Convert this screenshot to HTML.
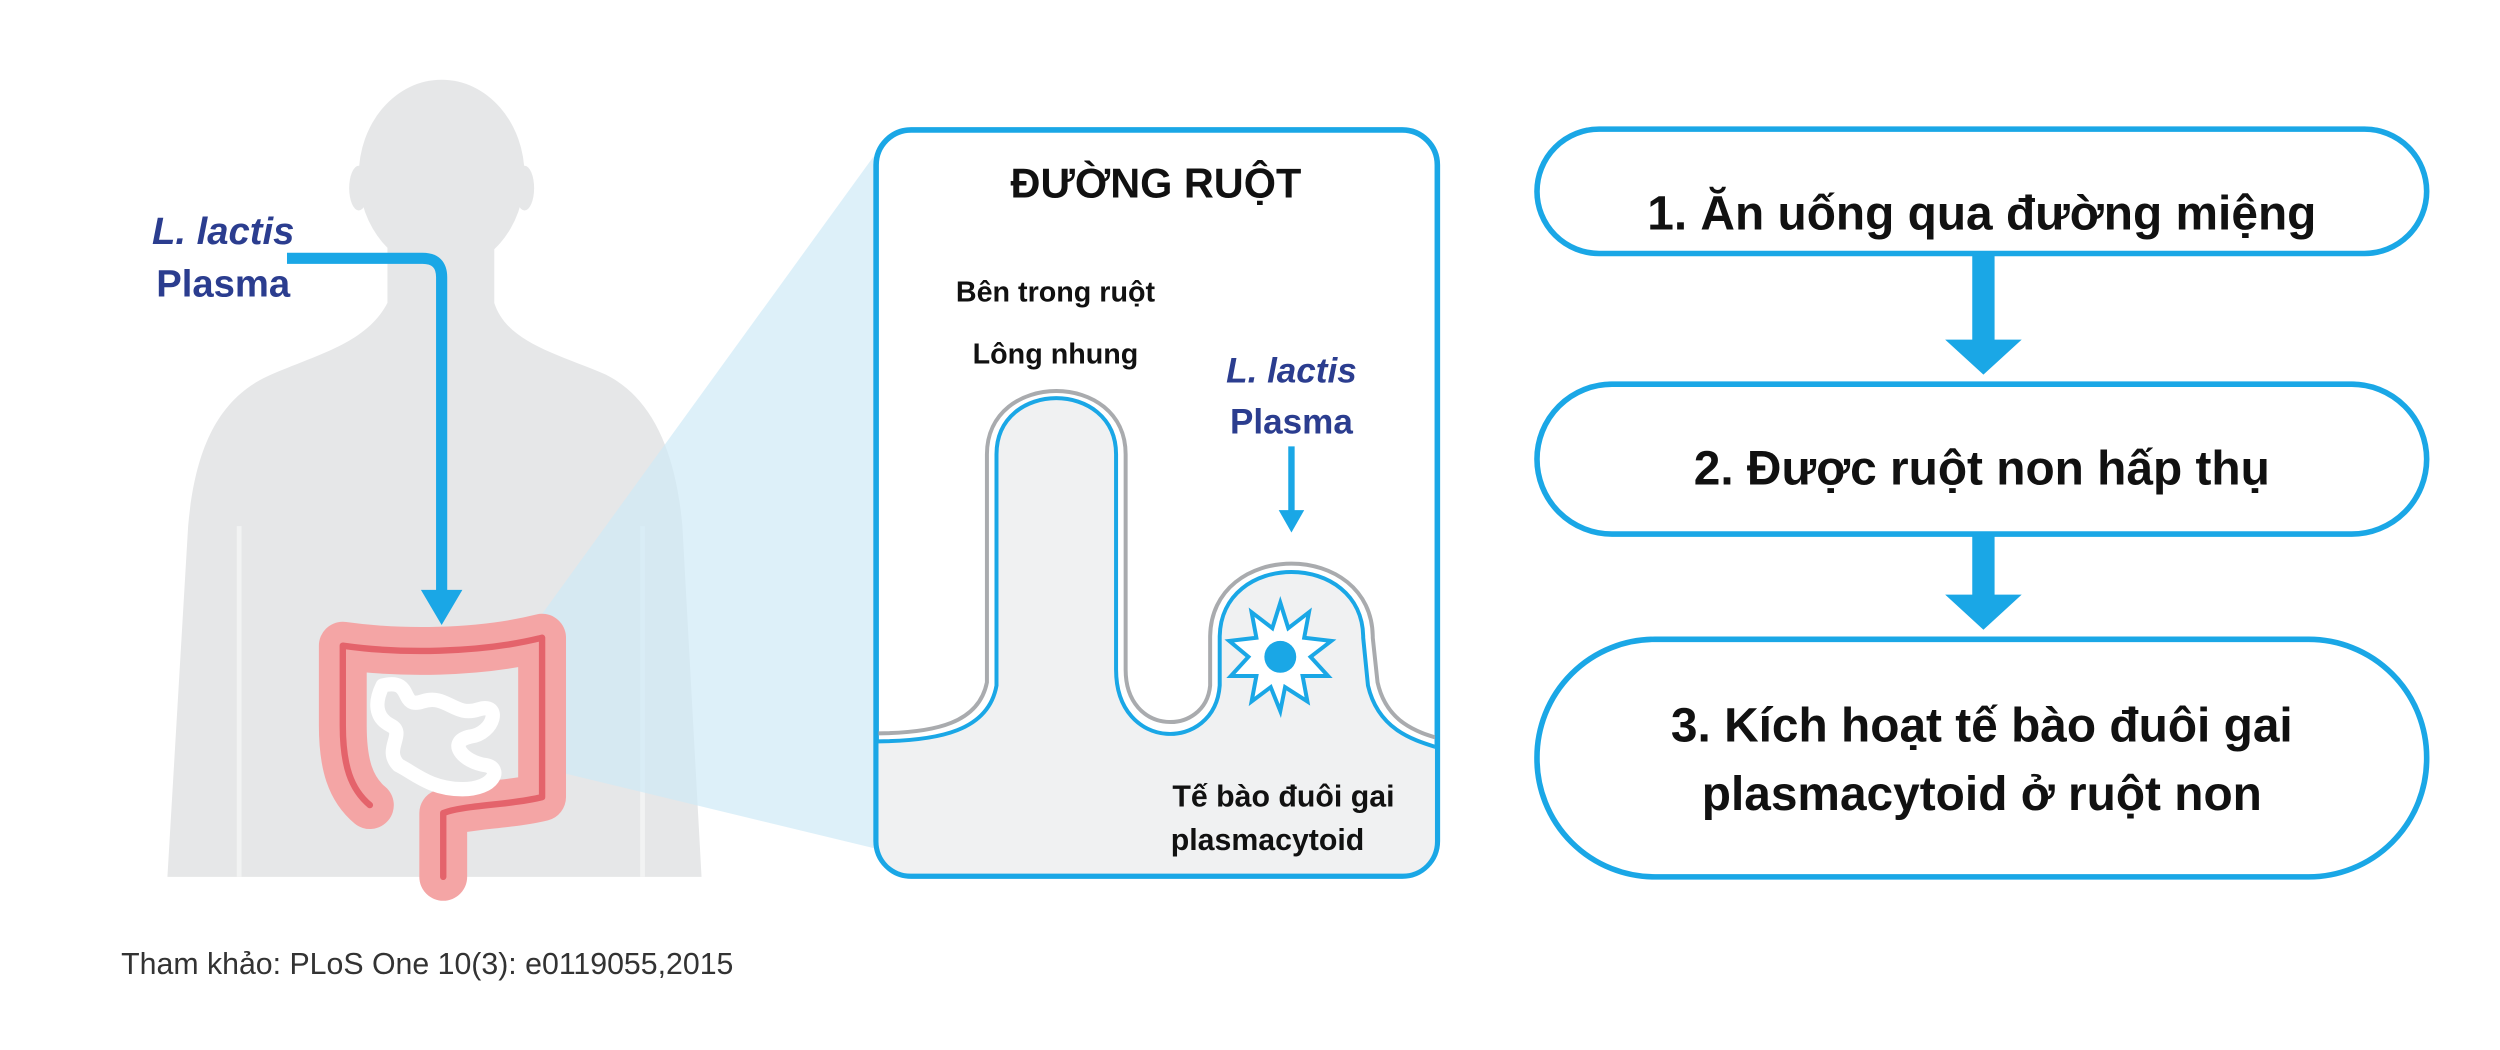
<!DOCTYPE html>
<html><head><meta charset="utf-8"><style>
html,body{margin:0;padding:0;background:#fff}
svg{display:block}
text{font-family:"Liberation Sans","Noto Sans CJK SC",sans-serif}
</style></head><body>
<svg width="2500" height="1050" viewBox="0 0 1568 658.6" preserveAspectRatio="none" xmlns="http://www.w3.org/2000/svg">
<rect width="1568" height="659" fill="#fff"/>
<!-- silhouette -->
<g fill="#e6e7e8">
<ellipse cx="277" cy="110" rx="52" ry="60"/>
<ellipse cx="225" cy="118" rx="6" ry="14"/>
<ellipse cx="329" cy="118" rx="6" ry="14"/>
<path d="M243,150 L243,190 C230,215 200,222 170,235 C135,250 122,285 118,330 L105,550 L440,550 L428,330 C424,285 410,250 380,235 C350,222 318,215 310,190 L310,150 Z"/>
</g>
<path d="M150,330 L150,550 M403,330 L403,550" stroke="#f2f3f3" stroke-width="3" fill="none"/>
<!-- wedge -->
<polygon points="335,392 548,98 548,532 325,478" fill="#cfeaf7" opacity="0.7"/>
<!-- intestines -->
<g fill="none" stroke-linecap="round" stroke-linejoin="round">
<path d="M232,505 C220,495 215,480 215,455 L215,405 C250,410 300,410 340,400 L340,500 C320,505 290,505 278,510 L278,550" stroke="#f4a5a5" stroke-width="30"/>
<path d="M232,505 C220,495 215,480 215,455 L215,405 C250,410 300,410 340,400 L340,500 C320,505 290,505 278,510 L278,550" stroke="#e4636b" stroke-width="4"/>
<path d="M240,430 C260,425 250,445 265,440 C280,435 285,450 300,445 C315,440 310,460 295,462 C280,465 290,478 305,480 C315,482 310,495 290,495 C270,495 260,485 250,480 C240,470 255,460 245,455 C235,450 235,440 240,430" stroke="#fff" stroke-width="9"/>
</g>
<!-- left arrow -->
<path d="M180,162 L265,162 Q277,162 277,174 L277,372" stroke="#1aa7e6" stroke-width="7" fill="none"/>
<polygon points="264,370 290,370 277,392" fill="#1aa7e6"/>
<text x="140" y="153" font-size="24" font-weight="bold" font-style="italic" fill="#2b3d8f" text-anchor="middle">L. lactis</text>
<text x="140" y="186" font-size="24" font-weight="bold" fill="#2b3d8f" text-anchor="middle">Plasma</text>
<!-- panel -->
<rect x="549.5" y="81.5" width="352" height="468" rx="22" fill="#fff" stroke="#1aa7e6" stroke-width="3.5"/>
<clipPath id="pc"><rect x="551" y="83" width="349" height="465" rx="20"/></clipPath>
<g clip-path="url(#pc)">
<path d="M548,465 C590,465 620,458 625,430 L625,285 C625,238 700,238 700,285 L700,420 C700,472 762,472 765,430 L765,400 C765,345 855,345 855,400 L858,430 C865,460 890,465 905,470 L905,560 L548,560 Z" fill="#f0f1f2"/>
<path d="M548,460 C588,460 614,453 619,428 L619,285 C619,232 706,232 706,285 L706,420 C706,462 756,462 759,430 L759,400 C759,338 861,338 861,400 L864,428 C870,455 892,460 905,464" fill="none" stroke="#a9abae" stroke-width="2.5"/>
<path d="M548,465 C590,465 620,458 625,430 L625,285 C625,238 700,238 700,285 L700,420 C700,472 762,472 765,430 L765,400 C765,345 855,345 855,400 L858,430 C865,460 890,465 905,470" fill="none" stroke="#1aa7e6" stroke-width="2.5"/>
</g>
<polygon points="803,378 808,394 821,384 818,400 835,402 822,412 833,424 817,424 820,440 806,431 803,446 797,431 785,440 788,424 772,424 783,412 771,402 788,400 785,384 798,394" fill="#fff" stroke="#1aa7e6" stroke-width="2.5" stroke-linejoin="miter"/>
<circle cx="803" cy="412" r="10" fill="#1aa7e6"/>
<line x1="810" y1="280" x2="810" y2="322" stroke="#1aa7e6" stroke-width="4"/>
<polygon points="802,320 818,320 810,334" fill="#1aa7e6"/>
<text x="725" y="124" font-size="26" font-weight="bold" fill="#111" text-anchor="middle">ĐƯỜNG RUỘT</text>
<text x="662" y="189" font-size="18" font-weight="bold" fill="#111" text-anchor="middle">Bên trong ruột</text>
<text x="662" y="228" font-size="18" font-weight="bold" fill="#111" text-anchor="middle">Lông nhung</text>
<text x="810" y="240" font-size="22" font-weight="bold" font-style="italic" fill="#2b3d8f" text-anchor="middle">L. lactis</text>
<text x="810" y="272" font-size="22" font-weight="bold" fill="#2b3d8f" text-anchor="middle">Plasma</text>
<text x="805" y="506" font-size="19" font-weight="bold" fill="#111" text-anchor="middle">Tế bào đuôi gai</text>
<text x="795" y="533" font-size="19" font-weight="bold" fill="#111" text-anchor="middle">plasmacytoid</text>
<text x="76" y="611" font-size="19" fill="#333">Tham khảo: PLoS One 10(3): e0119055,2015</text>
<!-- right flow -->
<g fill="#fff" stroke="#1aa7e6" stroke-width="3.5">
<rect x="964" y="81" width="558" height="78" rx="39"/>
<rect x="964" y="241" width="558" height="94" rx="47"/>
<rect x="964" y="401" width="558" height="149" rx="74"/>
</g>
<g fill="#1aa7e6">
<rect x="1237" y="159" width="14" height="55"/>
<polygon points="1220,213 1268,213 1244,235"/>
<rect x="1237" y="335" width="14" height="39"/>
<polygon points="1220,373 1268,373 1244,395"/>
</g>
<g font-size="30" font-weight="bold" fill="#111" text-anchor="middle">
<text x="1243" y="144">1. Ăn uống qua đường miệng</text>
<text x="1243" y="304">2. Được ruột non hấp thụ</text>
<text x="1243" y="465">3. Kích hoạt tế bào đuôi gai</text>
<text x="1243" y="508">plasmacytoid ở ruột non</text>
</g>
</svg>
</body></html>
